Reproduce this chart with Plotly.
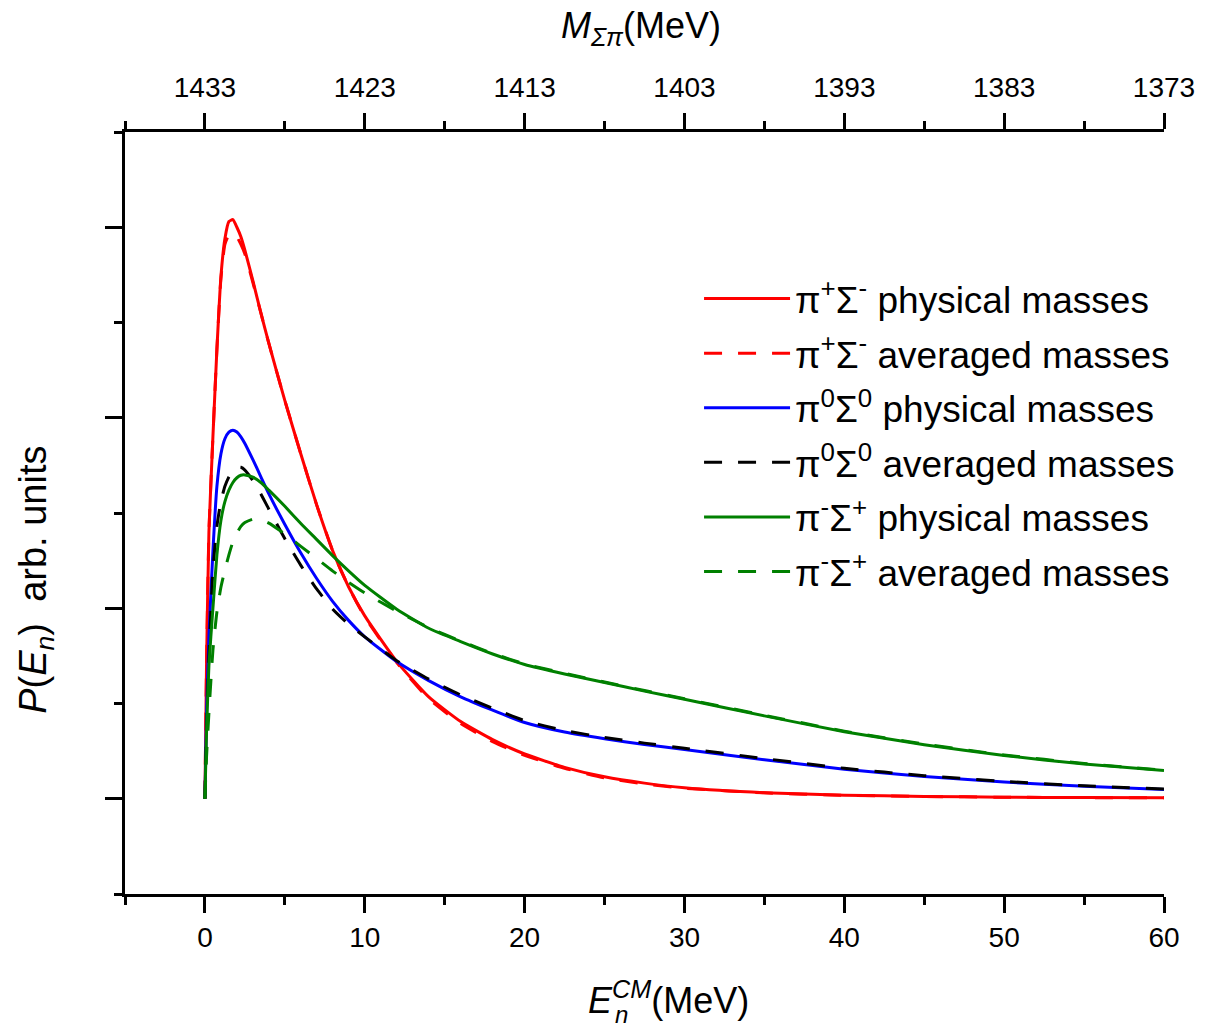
import plotly.graph_objects as go

# Neutron CM energy grid (MeV)
E_n = [0, 0.1, 0.25, 0.5, 0.75, 1.0, 1.25, 1.5, 1.75, 2.0, 2.25, 2.5, 3.0, 3.5, 4.0,
       5.0, 6.0, 7.0, 8.0, 9.0, 10.0, 12.0, 14.0, 16.0, 18.0, 20.0, 22.5, 25.0,
       27.5, 30.0, 35.0, 40.0, 45.0, 50.0, 55.0, 60.0]

# Spectra P(E_n), arbitrary units
pip_sm_phys = [0, 0.70, 1.40, 1.90, 2.36, 2.74, 2.94, 3.03, 3.04, 3.00, 2.95, 2.88, 2.72,
               2.55, 2.39, 2.09, 1.81, 1.54, 1.30, 1.11, 0.96, 0.72, 0.535, 0.405, 0.31,
               0.235, 0.165, 0.115, 0.082, 0.058, 0.032, 0.019, 0.012, 0.008, 0.006, 0.005]
pip_sm_avg = [0, 0.70, 1.40, 1.90, 2.36, 2.73, 2.91, 2.96, 2.97, 2.95, 2.91, 2.86, 2.71,
              2.55, 2.39, 2.09, 1.81, 1.54, 1.30, 1.11, 0.955, 0.715, 0.525, 0.395, 0.30,
              0.228, 0.16, 0.11, 0.078, 0.055, 0.031, 0.018, 0.012, 0.008, 0.006, 0.005]
pi0_s0_phys = [0, 0.45, 0.85, 1.30, 1.64, 1.81, 1.89, 1.925, 1.935, 1.925, 1.90, 1.865, 1.78,
               1.69, 1.60, 1.44, 1.29, 1.155, 1.035, 0.935, 0.85, 0.72, 0.62, 0.535, 0.465,
               0.40, 0.35, 0.315, 0.285, 0.258, 0.205, 0.155, 0.117, 0.088, 0.066, 0.049]
pi0_s0_avg = [0, 0.35, 0.75, 1.20, 1.43, 1.56, 1.64, 1.69, 1.725, 1.74, 1.74, 1.725, 1.67,
              1.60, 1.52, 1.365, 1.225, 1.10, 0.995, 0.915, 0.85, 0.725, 0.628, 0.545, 0.475,
              0.41, 0.358, 0.322, 0.292, 0.265, 0.211, 0.16, 0.121, 0.091, 0.068, 0.051]
pim_sp_phys = [0, 0.35, 0.70, 1.00, 1.28, 1.46, 1.56, 1.62, 1.66, 1.685, 1.698, 1.70, 1.688,
               1.66, 1.62, 1.535, 1.445, 1.36, 1.275, 1.195, 1.12, 0.995, 0.895, 0.825, 0.76,
               0.705, 0.655, 0.61, 0.565, 0.522, 0.435, 0.352, 0.284, 0.227, 0.182, 0.148]
pim_sp_avg = [0, 0.22, 0.45, 0.78, 0.98, 1.11, 1.20, 1.28, 1.35, 1.395, 1.43, 1.45, 1.468,
              1.465, 1.447, 1.39, 1.325, 1.26, 1.195, 1.135, 1.08, 0.985, 0.898, 0.828, 0.763,
              0.708, 0.658, 0.613, 0.568, 0.525, 0.438, 0.355, 0.287, 0.23, 0.185, 0.15]

# Sigma-pi invariant mass corresponding to E_n = 0 (MeV)
M_threshold = 1433
E_range = [-5, 60]
M_ticks = [1433, 1423, 1413, 1403, 1393, 1383, 1373]

FONT = "Arial, Liberation Sans, sans-serif"
DASH = "18px,16px"

series = [
    ("π<sup>+</sup>Σ<sup>-</sup> physical masses", pip_sm_phys, "#ff0000", "solid"),
    ("π<sup>+</sup>Σ<sup>-</sup> averaged masses", pip_sm_avg, "#ff0000", DASH),
    ("π<sup>0</sup>Σ<sup>0</sup> physical masses", pi0_s0_phys, "#0000ff", "solid"),
    ("π<sup>0</sup>Σ<sup>0</sup> averaged masses", pi0_s0_avg, "#000000", DASH),
    ("π<sup>-</sup>Σ<sup>+</sup> physical masses", pim_sp_phys, "#008000", "solid"),
    ("π<sup>-</sup>Σ<sup>+</sup> averaged masses", pim_sp_avg, "#008000", DASH),
]

fig = go.Figure()
for i, (name, vals, color, dash) in enumerate(series):
    fig.add_trace(go.Scatter(
        x=E_n, y=vals, mode="lines", name=name, legendgroup=f"g{i}",
        line=dict(color=color, width=3, dash=dash, shape="spline", smoothing=0.5),
    ))

# invisible trace that activates the top mass axis
fig.add_trace(go.Scatter(
    x=[M_threshold - e for e in E_range], y=[0, 0], xaxis="x2", mode="lines",
    line=dict(width=0), showlegend=False, hoverinfo="skip",
))

axis_common = dict(
    showline=True, linewidth=3, linecolor="black", ticks="outside",
    ticklen=16, tickwidth=3, tickcolor="black", showgrid=False, zeroline=False,
    tickfont=dict(family=FONT, size=28, color="black"),
)
minor_ticks = dict(ticklen=8, tickwidth=3, ticks="outside", tickcolor="black")

fig.update_layout(
    width=1207, height=1031,
    margin=dict(l=125, r=34, t=132, b=137),
    paper_bgcolor="white", plot_bgcolor="white",
    font=dict(family=FONT, color="black"),
    xaxis=dict(range=E_range, tick0=0, dtick=10, minor=dict(dtick=5, **minor_ticks),
               **axis_common),
    xaxis2=dict(overlaying="x", side="top", anchor="y",
                range=[M_threshold - E_range[0], M_threshold - E_range[1]],
                tickmode="array", tickvals=M_ticks, ticklabelstandoff=5,
                minor=dict(dtick=5, tick0=1373, **minor_ticks),
                **axis_common),
    yaxis=dict(range=[-0.5, 3.5], tick0=0, dtick=1, showticklabels=False,
               minor=dict(dtick=0.5, **minor_ticks),
               **{k: v for k, v in axis_common.items() if k != "ticklen"}, ticklen=17),
    legend=dict(x=0.5525, y=0.8215, xanchor="left", yanchor="top",
                font=dict(family=FONT, size=37, color="black"),
                bgcolor="rgba(0,0,0,0)", itemwidth=86, tracegroupgap=3.5),
    showlegend=True,
)

title_font = dict(family=FONT, size=36, color="black")
fig.add_annotation(text="<i>M</i><sub><i>Σπ</i></sub>(MeV)", xref="paper", yref="paper",
                   x=0.497, y=1.137, xanchor="center", yanchor="middle",
                   showarrow=False, font=title_font)
fig.add_annotation(text="<i>E</i><sup><i>CM</i></sup>(MeV)", xref="paper", yref="paper",
                   x=0.523, y=-0.136, xanchor="center", yanchor="middle",
                   showarrow=False, font=title_font)
fig.add_annotation(text="<i>n</i>", xref="paper", yref="paper",
                   x=0.4695, y=-0.158, xanchor="left", yanchor="middle",
                   showarrow=False, font=dict(family=FONT, size=24, color="black"))
fig.add_annotation(text="<i>P</i>(<i>E</i><sub><i>n</i></sub>)&nbsp; arb. units",
                   xref="paper", yref="paper", x=-0.0859, y=0.412,
                   xanchor="center", yanchor="middle", textangle=-90,
                   showarrow=False, font=dict(family=FONT, size=38, color="black"))

fig.write_html("out.html")
